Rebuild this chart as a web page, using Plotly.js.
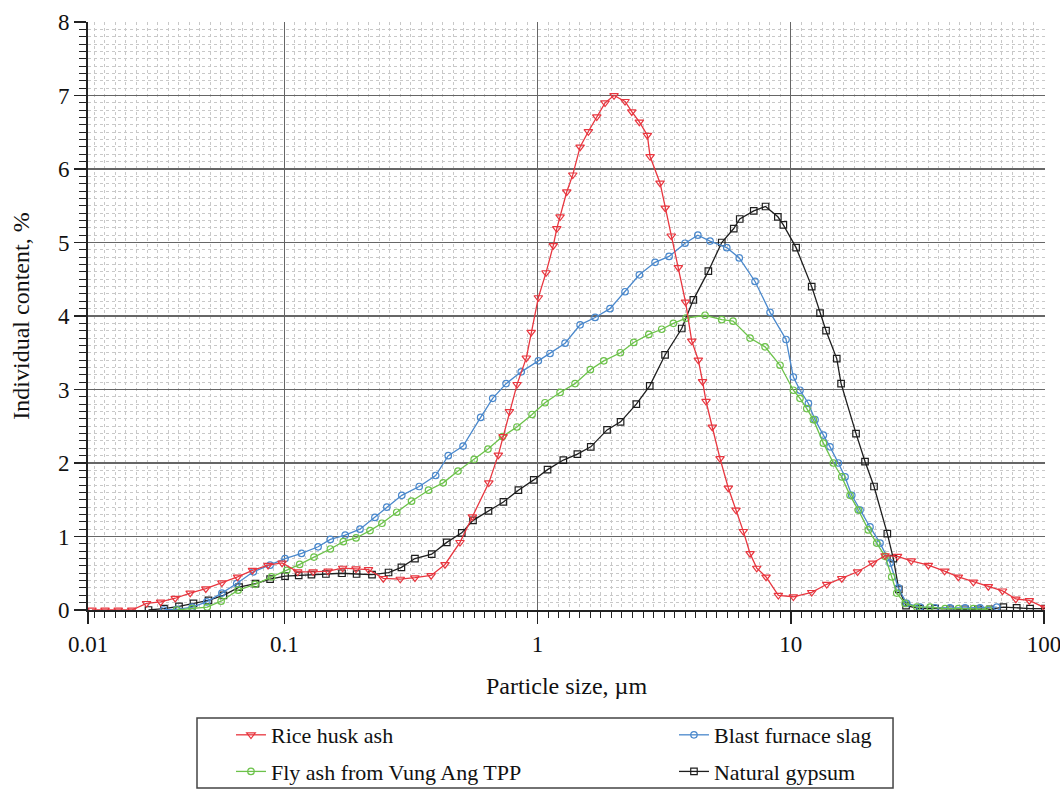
<!DOCTYPE html>
<html>
<head>
<meta charset="utf-8">
<script src="https://cdn.plot.ly/plotly-3.0.1.min.js"></script>
<style>
  html, body { margin: 0; padding: 0; background: #ffffff; }
  #chart { width: 1060px; height: 789px; }
</style>
</head>
<body>
<div id="chart"></div>
<script>
// ---- Data (particle size in µm, individual content in %) ----
var riceHuskX = [0.0174,0.0196,0.0221,0.0250,0.0286,0.0325,0.0371,0.0425,0.0490,0.0567,0.0654,0.0749,0.0863,0.0980,0.113,0.130,0.149,0.170,0.192,0.215,0.246,0.287,0.328,0.380,0.431,0.494,0.553,0.642,0.700,0.731,0.774,0.830,0.903,0.944,1.007,1.080,1.154,1.191,1.227,1.304,1.377,1.472,1.587,1.713,1.847,2.004,2.215,2.355,2.523,2.713,2.781,3.045,3.193,3.372,3.596,3.840,4.062,4.313,4.481,4.626,4.894,5.254,5.665,6.076,6.494,6.902,7.334,7.983,8.927,10.23,12.09,13.86,15.89,18.34,21.02,23.55,26.38,29.88,34.91,40.45,45.85,52.56,60.23,68.50,77.32,87.36,100.8];
var riceHuskY = [0,0,0,0,0.09,0.11,0.16,0.23,0.29,0.37,0.45,0.54,0.61,0.64,0.52,0.52,0.53,0.57,0.56,0.55,0.43,0.42,0.44,0.47,0.62,0.92,1.27,1.73,2.11,2.36,2.70,3.07,3.43,3.78,4.25,4.59,4.96,5.19,5.35,5.69,5.92,6.30,6.51,6.71,6.90,7.00,6.92,6.78,6.64,6.46,6.17,5.81,5.47,5.09,4.66,4.19,3.66,3.40,3.11,2.84,2.49,2.06,1.66,1.36,1.07,0.77,0.57,0.45,0.20,0.18,0.24,0.35,0.43,0.52,0.64,0.74,0.73,0.67,0.61,0.53,0.45,0.38,0.32,0.26,0.15,0.13,0.03];

var slagX = [0.0334,0.0377,0.0433,0.0494,0.0567,0.0649,0.0755,0.0879,0.1007,0.117,0.136,0.152,0.174,0.199,0.228,0.254,0.291,0.341,0.396,0.444,0.508,0.596,0.665,0.751,0.862,1.007,1.120,1.284,1.472,1.687,1.932,2.215,2.523,2.910,3.305,3.822,4.294,4.797,5.585,6.256,7.222,8.278,9.574,10.23,10.87,11.73,12.46,13.44,14.28,15.40,16.37,17.40,18.76,20.54,22.50,24.65,26.57,28.68,32.36,37.10,42.52,48.74,55.85,65.02];
var slagY = [0,0.01,0.04,0.11,0.23,0.36,0.52,0.61,0.70,0.77,0.86,0.96,1.02,1.10,1.26,1.40,1.56,1.68,1.83,2.10,2.23,2.62,2.88,3.08,3.24,3.39,3.49,3.63,3.88,3.98,4.10,4.33,4.56,4.73,4.81,4.99,5.10,5.02,4.93,4.79,4.47,4.05,3.68,3.17,2.99,2.81,2.59,2.38,2.22,2.00,1.81,1.56,1.36,1.13,0.91,0.64,0.30,0.09,0.04,0.03,0.03,0.03,0.03,0.04];

var flyAshX = [0.0376,0.0433,0.0496,0.0563,0.0657,0.0767,0.0891,0.1023,0.115,0.131,0.152,0.171,0.192,0.218,0.243,0.278,0.318,0.371,0.424,0.485,0.562,0.637,0.727,0.829,0.951,1.070,1.227,1.406,1.616,1.826,2.123,2.398,2.750,3.092,3.437,3.858,4.585,5.336,5.913,6.902,7.911,9.066,10.23,10.87,11.56,12.27,13.44,14.72,15.89,17.13,18.47,20.23,21.83,23.55,25.02,26.19,28.24,31.42,35.45,40.63,45.85,52.56,60.23];
var flyAshY = [0,0.02,0.04,0.12,0.27,0.35,0.45,0.54,0.62,0.72,0.83,0.93,0.98,1.08,1.18,1.33,1.48,1.63,1.73,1.89,2.05,2.19,2.36,2.49,2.66,2.82,2.96,3.08,3.27,3.39,3.50,3.64,3.75,3.82,3.90,3.97,4.01,3.95,3.93,3.70,3.58,3.33,2.99,2.88,2.74,2.59,2.27,2.00,1.81,1.56,1.36,1.09,0.91,0.73,0.45,0.23,0.09,0.04,0.04,0.02,0.02,0.02,0.01];

var gypsumX = [0.0291,0.0335,0.0384,0.0438,0.0502,0.0575,0.0663,0.0770,0.0879,0.1007,0.114,0.128,0.146,0.169,0.193,0.222,0.258,0.290,0.328,0.382,0.438,0.502,0.556,0.640,0.733,0.840,0.966,1.095,1.264,1.436,1.622,1.881,2.127,2.455,2.773,3.187,3.709,4.121,4.724,5.336,5.952,6.285,7.138,7.946,8.886,9.342,10.49,12.09,13.04,13.77,15.18,15.79,18.09,19.63,21.30,24.04,25.39,26.69,28.50,32.36,37.10,42.52,48.74,54.83,61.16,69.02,77.97,87.99,100.8];
var gypsumY = [0,0.02,0.05,0.09,0.13,0.20,0.31,0.36,0.42,0.46,0.47,0.48,0.49,0.50,0.49,0.48,0.51,0.58,0.70,0.76,0.92,1.05,1.22,1.35,1.47,1.63,1.77,1.91,2.04,2.12,2.22,2.45,2.56,2.80,3.05,3.47,3.83,4.22,4.61,5.00,5.19,5.32,5.43,5.49,5.35,5.24,4.93,4.40,4.04,3.80,3.42,3.08,2.40,2.02,1.68,1.04,0.70,0.28,0.06,0.02,0.02,0.01,0.01,0.01,0.01,0.04,0.03,0.02,0.02];

var seriesNames = ['Rice husk ash', 'Blast furnace slag', 'Fly ash from Vung Ang TPP', 'Natural gypsum'];
var xTickLabels = ['0.01', '0.1', '1', '10', '100'];
var yTickLabels = ['0', '1', '2', '3', '4', '5', '6', '7', '8'];

// ---- Styling ----
var xRangeLog = [-1.775, 2.0035];
var xTickVals = [Math.pow(10, xRangeLog[0]), 0.1, 1, 10, 100];
var yTickVals = [0, 1, 2, 3, 4, 5, 6, 7, 8];
var FONT = 'Liberation Serif, Times New Roman, Times, serif';

function makeTrace(x, y, name, color, symbol, size, legendId, rank) {
  return {
    type: 'scatter', mode: 'lines+markers', x: x, y: y, name: name,
    line: { color: color, width: 1.3 },
    marker: { symbol: symbol, size: size, color: color, line: { color: color, width: 1.2 } },
    legend: legendId, legendrank: rank, legendgroup: name
  };
}

var traces = [
  makeTrace(gypsumX, gypsumY, seriesNames[3], '#1e1e1e', 'square-open', 6.5, 'legend2', 2),
  makeTrace(slagX, slagY, seriesNames[1], '#4a88cc', 'circle-open', 6.5, 'legend2', 1),
  makeTrace(flyAshX, flyAshY, seriesNames[2], '#6cc24a', 'circle-open', 6.5, 'legend', 2),
  makeTrace(riceHuskX, riceHuskY, seriesNames[0], '#e8363f', 'triangle-down-open', 7.5, 'legend', 1)
];

var legendCommon = {
  orientation: 'v', xanchor: 'left', yanchor: 'top',
  bgcolor: 'rgba(0,0,0,0)', borderwidth: 0,
  font: { family: FONT, size: 22, color: '#111' },
  tracegroupgap: 5
};

var layout = {
  width: 1060, height: 789,
  margin: { l: 88, r: 15, t: 22, b: 179, pad: 0, autoexpand: false },
  paper_bgcolor: '#ffffff', plot_bgcolor: '#ffffff',
  font: { family: FONT, size: 23, color: '#111' },
  showlegend: true,
  xaxis: {
    type: 'log', range: xRangeLog, autorange: false, automargin: false,
    tickmode: 'array', tickvals: xTickVals, ticktext: xTickLabels,
    ticks: 'outside', ticklen: 12, tickwidth: 1.5, tickcolor: '#222',
    ticklabeloverflow: 'allow',
    showline: true, linecolor: '#222', linewidth: 2, zeroline: false,
    showgrid: true, gridcolor: '#666666', gridwidth: 1.3,
    minor: { tickmode: 'linear', tick0: 0, dtick: 1 / 24, ticks: 'outside', ticklen: 6, tickwidth: 1, tickcolor: '#222',
             showgrid: true, gridcolor: '#c8c8c8', gridwidth: 1, griddash: 'dot' },
    tickfont: { family: FONT, size: 23, color: '#111' },
    title: { text: 'Particle size, µm', font: { family: FONT, size: 24, color: '#111' }, standoff: 22 }
  },
  yaxis: {
    range: [0, 8], autorange: false, automargin: false,
    tickmode: 'array', tickvals: yTickVals, ticktext: yTickLabels,
    ticks: 'outside', ticklen: 12, tickwidth: 1.5, tickcolor: '#222',
    showline: true, linecolor: '#222', linewidth: 2, zeroline: false,
    showgrid: true, gridcolor: '#666666', gridwidth: 1.3,
    minor: { tickmode: 'linear', tick0: 0, dtick: 0.1, ticks: 'outside', ticklen: 7, tickwidth: 1, tickcolor: '#222',
             showgrid: true, gridcolor: '#c8c8c8', gridwidth: 1, griddash: 'dot' },
    tickfont: { family: FONT, size: 23, color: '#111' },
    title: { text: 'Individual content, %', font: { family: FONT, size: 24, color: '#111' }, standoff: 22 }
  },
  legend: Object.assign({}, legendCommon, { x: 0.1494, y: -0.1769 }),
  legend2: Object.assign({}, legendCommon, { x: 0.6123, y: -0.1769 }),
  shapes: [{
    type: 'rect', xref: 'paper', yref: 'paper',
    x0: 0.1139, x1: 0.8412, y0: -0.1837, y1: -0.3027,
    line: { color: '#444', width: 1.5 }, fillcolor: 'rgba(0,0,0,0)', layer: 'below'
  }]
};

Plotly.newPlot('chart', traces, layout, { displayModeBar: false, staticPlot: true });
</script>
</body>
</html>
